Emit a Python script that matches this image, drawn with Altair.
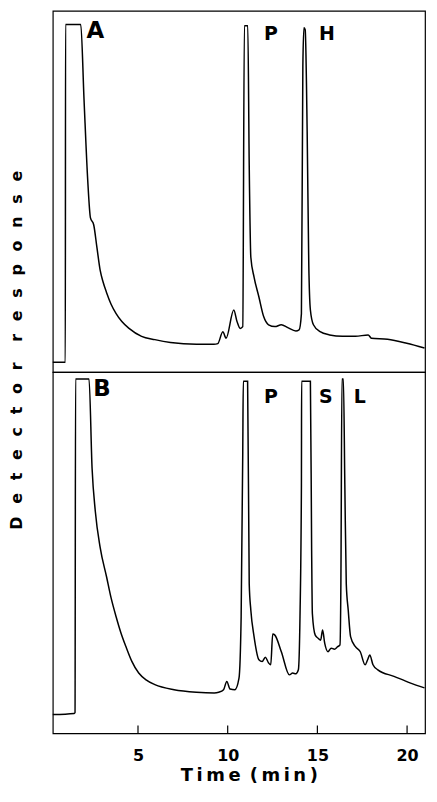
import altair as alt
import pandas as pd

# ---- data ----
time_a = [0.25, 0.95, 0.96, 1.81, 1.99, 2.20, 2.35, 2.53, 2.71, 2.89, 3.05, 3.25, 3.50, 3.78,
          4.10, 4.50, 5.20, 5.94, 6.81, 8.26, 9.23, 9.45, 9.73, 9.91, 10.34, 10.52, 10.70,
          10.84, 10.93, 11.12, 11.20, 11.29, 11.47, 11.74, 12.01, 12.28, 12.63, 12.99, 13.35,
          13.80, 13.98, 14.11, 14.19, 14.25, 14.32, 14.43, 14.52, 14.61, 14.78, 15.15, 15.68,
          16.40, 17.12, 17.83, 18.01, 18.91, 19.98, 20.97]
resp_a = [2.7, 2.7, 96.2, 96.2, 75.6, 52.9, 42.7, 40.8, 34.5, 28.2, 25.0, 22.0, 18.8, 16.2,
          14.0, 12.1, 9.9, 9.0, 8.2, 7.7, 7.7, 7.9, 11.2, 9.4, 17.2, 14.0, 12.1,
          12.6, 95.9, 95.9, 57.3, 31.8, 26.3, 20.8, 15.3, 13.1, 12.6, 13.1, 12.3,
          11.4, 11.7, 16.2, 84.7, 95.3, 94.8, 66.6, 29.9, 17.2, 13.1, 11.2, 10.3,
          9.9, 9.9, 10.3, 9.4, 9.1, 8.0, 6.7]

time_b = [0.25, 1.44, 1.49, 1.52, 2.27, 2.44, 2.62, 2.89, 3.25, 3.50, 3.78, 4.05, 4.32, 4.65,
          5.04, 5.45, 5.94, 7.01, 8.26, 9.25, 9.50, 9.77, 9.95, 10.13, 10.40, 10.63, 10.75,
          10.84, 10.87, 11.11, 11.20, 11.29, 11.47, 11.74, 11.92, 12.10, 12.28, 12.40, 12.51,
          12.63, 12.99, 13.44, 13.62, 13.80, 13.94, 14.03, 14.11, 14.12, 14.61, 14.68, 14.72,
          14.88, 15.05, 15.18, 15.29, 15.41, 15.59, 15.77, 15.95, 16.13, 16.26, 16.31, 16.37,
          16.45, 16.53, 16.61, 16.72, 16.85, 17.12, 17.39, 17.66, 17.80, 17.92, 18.10, 18.37,
          19.27, 20.16, 20.97]
resp_b = [5.2, 5.5, 5.8, 98.1, 98.1, 73.4, 61.5, 51.5, 43.3, 37.5, 32.3, 27.8, 24.1, 20.0,
          16.7, 14.8, 13.5, 12.1, 11.4, 11.2, 11.4, 12.1, 14.4, 12.3, 12.1, 15.3, 32.3,
          77.9, 97.5, 97.5, 41.4, 34.1, 26.8, 20.4, 19.9, 21.1, 19.5, 19.0, 27.5,
          27.2, 22.6, 16.2, 16.7, 16.5, 17.6, 32.2, 68.8, 97.5, 97.5, 50.5, 33.2,
          27.2, 26.3, 25.8, 28.6, 24.9, 22.6, 23.6, 23.3, 24.0, 24.5, 41.4, 98.1,
          98.1, 68.8, 41.4, 34.1, 26.8, 24.0, 22.6, 19.0, 20.4, 21.7, 19.0, 17.6,
          15.8, 14.0, 12.6]

tick_values = [5, 10, 15, 20]

panel_a_letter = ["A"]; panel_a_letter_t = [2.13]; panel_a_letter_v = [94.5]
panel_b_letter = ["B"]; panel_b_letter_t = [2.51]; panel_b_letter_v = [95.3]
peaks_a = ["P", "H"]; peaks_a_t = [12.02, 15.09]; peaks_a_v = [93.7, 93.7]
peaks_b = ["P", "S", "L"]; peaks_b_t = [12.02, 15.09, 17.03]; peaks_b_v = [93.2, 93.2, 93.2]

x_title = "T\u2009i\u2009m\u2009e\u2002(\u2009m\u2009i\u2009n\u2009)"
GAP = "\u2002\u2009\u200a"
y_title = GAP.join(list("Detector")) + GAP + "\u2002" + GAP.join(list("response"))

FONT = "DejaVu Sans"
W, H = 374, 363
xscale = alt.Scale(domain=[0.25, 21], nice=False, zero=False)
yscale = alt.Scale(domain=[0, 100], nice=False, zero=False)


def panel(t, v, let, let_t, let_v, pk, pk_t, pk_v, bottom):
    df = pd.DataFrame({"t": t, "v": v, "i": list(range(len(t)))})
    if bottom:
        xaxis = alt.Axis(values=tick_values, tickSize=0, domain=False, grid=False,
                         labelFont=FONT, labelFontSize=16, labelFontWeight="bold",
                         labelColor="black", labelPadding=14, title=x_title,
                         titleFont=FONT, titleFontSize=18, titleFontWeight="bold",
                         titleColor="black", titlePadding=3, titleX=W / 2 + 10)
    else:
        xaxis = None
    line = alt.Chart(df).mark_line(color="black", strokeWidth=1.5, interpolate="monotone").encode(
        x=alt.X("t:Q", scale=xscale, axis=xaxis),
        y=alt.Y("v:Q", scale=yscale, axis=None),
        order="i:Q",
    )
    ldf = pd.DataFrame({"txt": let, "t": let_t, "v": let_v})
    letter = alt.Chart(ldf).mark_text(align="left", baseline="middle", font=FONT,
                                      fontWeight="bold", fontSize=23, color="black").encode(
        x=alt.X("t:Q", scale=xscale, axis=xaxis), y=alt.Y("v:Q", scale=yscale, axis=None),
        text="txt:N")
    pdf = pd.DataFrame({"txt": pk, "t": pk_t, "v": pk_v})
    peaks = alt.Chart(pdf).mark_text(align="left", baseline="middle", font=FONT,
                                     fontWeight="bold", fontSize=19, color="black").encode(
        x=alt.X("t:Q", scale=xscale, axis=xaxis), y=alt.Y("v:Q", scale=yscale, axis=None),
        text="txt:N")
    layers = [line, letter, peaks]
    if bottom:
        tdf = pd.DataFrame({"t": tick_values})
        ticks = alt.Chart(tdf).mark_rule(color="black", strokeWidth=1.2).encode(
            x=alt.X("t:Q", scale=xscale, axis=xaxis), y=alt.value(H), y2=alt.value(H - 8))
        ytitle = alt.Chart(pd.DataFrame({"txt": [y_title]})).mark_text(
            angle=270, align="center", baseline="middle", font=FONT, fontWeight="bold",
            fontSize=16, color="black").encode(
            x=alt.value(-36), y=alt.value(-22), text="txt:N")
        layers += [ticks, ytitle]
    return alt.layer(*layers).properties(width=W, height=H)


top = panel(time_a, resp_a, panel_a_letter, panel_a_letter_t, panel_a_letter_v,
            peaks_a, peaks_a_t, peaks_a_v, False)
bot = panel(time_b, resp_b, panel_b_letter, panel_b_letter_t, panel_b_letter_v,
            peaks_b, peaks_b_t, peaks_b_v, True)

chart = alt.vconcat(top, bot, spacing=0, bounds="flush").properties(
    padding={"left": 0, "top": 0, "right": 0, "bottom": 0},
).configure_view(stroke="black", strokeWidth=1.2).configure_concat(spacing=0)

chart.save("out.html", embed_options={"renderer": "svg", "actions": False})
